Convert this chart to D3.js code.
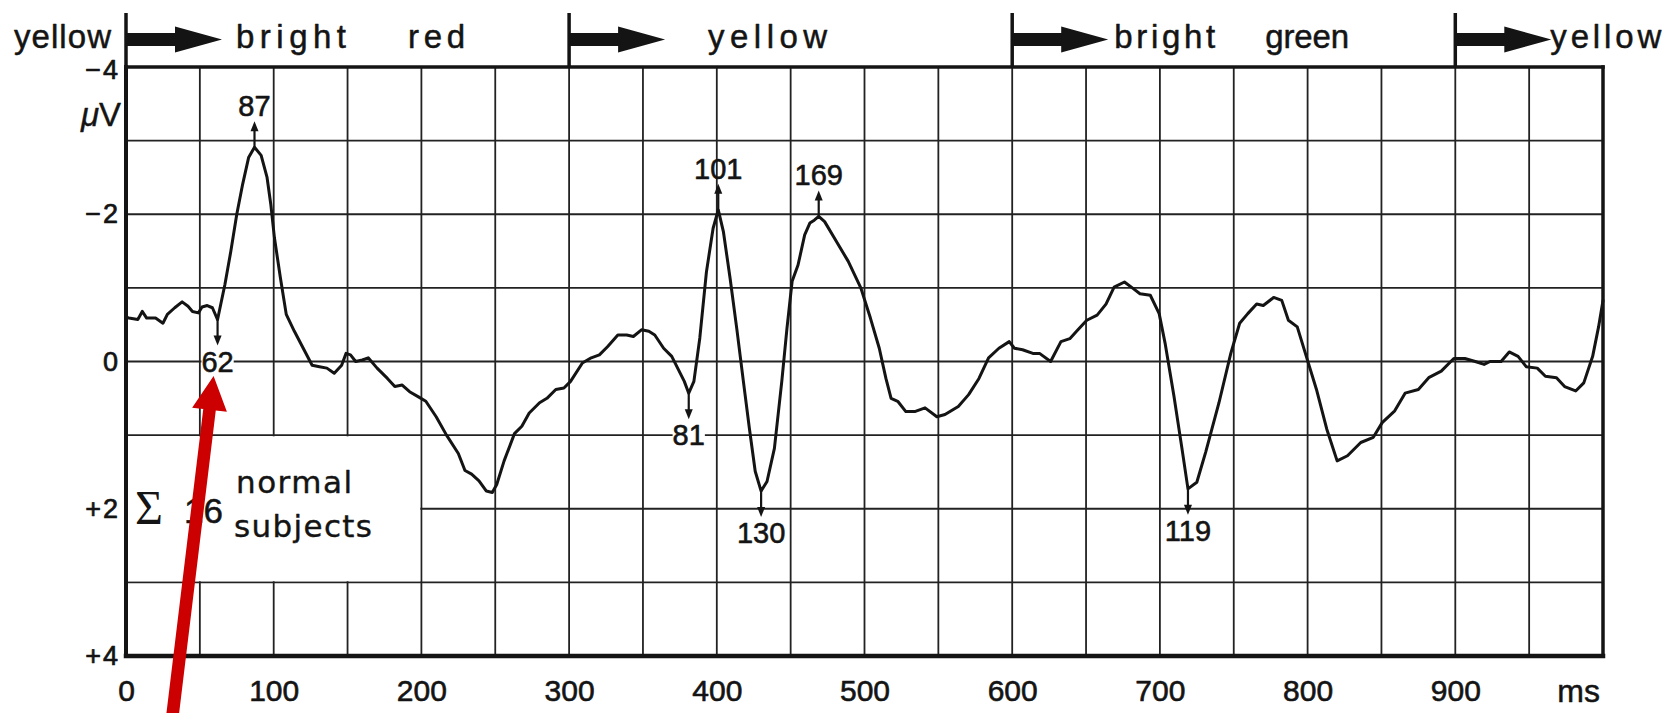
<!DOCTYPE html>
<html>
<head>
<meta charset="utf-8">
<script src="https://cdn.jsdelivr.net/npm/d3@7"></script>
<style>
  html, body { margin: 0; padding: 0; background: #ffffff; }
  svg { display: block; }
</style>
</head>
<body>
<svg id="chart" width="1670" height="713"></svg>
<script>
// Averaged visual evoked potential, colour-change stimulation
// Time after sweep start (ms) and amplitude (µV, negative is drawn upward)
const timeMs = [
  0, 2, 8, 11, 14, 20, 25, 28, 33, 38, 42, 45, 49, 51.5, 55, 58.5, 62, 67, 71, 75,
  79, 83, 87, 91.5, 95.5, 98, 100.5, 104.5, 108.5, 114, 120, 126, 131, 136, 141, 146, 149, 152, 155.5, 160,
  164, 170, 177, 182, 187, 192, 198, 203, 210, 217, 225, 229.5, 234, 239, 244, 248, 251, 256, 263, 268,
  273, 280, 285, 291, 296.5, 301, 309, 315, 320.5, 326, 333, 339, 343.5, 349, 354, 358, 364, 369.5, 374, 378,
  381, 384.5, 388.5, 393, 397.5, 401, 404.5, 409, 413.5, 418, 422, 426, 430, 434, 439, 444, 447.5, 451, 455, 459.5,
  463, 466, 469, 473, 481, 489, 497.5, 504, 510, 514.5, 518, 522.5, 528, 534, 541, 549, 554.5, 563.5, 570.5, 577.5,
  584, 591, 598, 601.5, 607, 614, 618.5, 626, 633, 639, 644.5, 650.5, 657.5, 663.5, 669, 676, 682, 686.5, 693.5, 699.5,
  703.5, 709.5, 715, 719, 725, 731, 740, 748, 754, 759.5, 765.5, 770, 777, 782.5, 787, 793, 798.5, 806, 813, 820,
  827, 836, 844.5, 850.5, 859, 866, 875, 882, 890.5, 899, 906.5, 913.5, 919.5, 923.5, 931, 936.5, 942.5, 948, 955.5, 961,
  968.5, 974, 981.5, 987, 993, 997, 1000
];
const amplitudeUv = [
  -0.60, -0.59, -0.57, -0.68, -0.59, -0.59, -0.52, -0.64, -0.73, -0.81, -0.75, -0.68, -0.66, -0.74, -0.76, -0.73, -0.57, -1.05, -1.50, -2.00,
  -2.41, -2.77, -2.91, -2.80, -2.50, -2.14, -1.68, -1.14, -0.64, -0.41, -0.18, 0.05, 0.07, 0.09, 0.16, 0.05, -0.11, -0.09, 0.00, -0.02,
  -0.05, 0.09, 0.23, 0.34, 0.32, 0.41, 0.48, 0.54, 0.75, 1.00, 1.25, 1.48, 1.53, 1.62, 1.76, 1.78, 1.67, 1.35, 0.98, 0.88,
  0.70, 0.56, 0.50, 0.38, 0.36, 0.27, 0.02, -0.05, -0.09, -0.20, -0.36, -0.36, -0.34, -0.43, -0.41, -0.36, -0.18, -0.07, 0.11, 0.27,
  0.43, 0.27, -0.32, -1.22, -1.81, -2.06, -1.76, -1.13, -0.45, 0.27, 0.90, 1.49, 1.76, 1.63, 1.18, 0.27, -0.45, -1.09, -1.31, -1.72,
  -1.88, -1.92, -1.97, -1.90, -1.63, -1.36, -1.00, -0.59, -0.18, 0.23, 0.50, 0.54, 0.68, 0.68, 0.63, 0.75, 0.72, 0.61, 0.45, 0.23,
  -0.05, -0.18, -0.27, -0.18, -0.16, -0.11, -0.11, 0.00, -0.27, -0.31, -0.43, -0.56, -0.63, -0.78, -1.01, -1.08, -0.99, -0.92, -0.90, -0.65,
  -0.25, 0.47, 1.19, 1.73, 1.64, 1.23, 0.56, -0.11, -0.52, -0.65, -0.78, -0.76, -0.87, -0.83, -0.56, -0.47, -0.11, 0.38, 0.92, 1.35,
  1.28, 1.10, 1.03, 0.83, 0.67, 0.43, 0.38, 0.22, 0.13, -0.04, -0.04, 0.00, 0.04, 0.00, 0.00, -0.13, -0.07, 0.07, 0.09, 0.20,
  0.22, 0.34, 0.40, 0.29, -0.07, -0.47, -0.83
];

// Axis ticks
const xTicks = [0, 100, 200, 300, 400, 500, 600, 700, 800, 900];
const yTicks = [-4, -2, 0, 2, 4];
const yTickLabels = ["\u22124", "\u22122", "0", "+2", "+4"];

// Stimulus sequence: colour shown before the sweep, then a change at each onset
const initialColour = "yellow";
const stimulusOnsets = [0, 300, 600, 900];
const stimulusColours = [["bright", "red"], ["yellow"], ["bright", "green"], ["yellow"]];

// Marked components: onset of the change they follow, latency after it, polarity
const peakOnsets = [0, 0, 300, 300, 300, 300, 600];
const peakLatencies = [62, 87, 81, 101, 130, 169, 119];
const peakUpward = [false, true, false, true, false, true, false];

const subjectCount = 16;

// ---------------------------------------------------------------------------
const W = 1670, H = 713;
const plotL = 126, plotR = 1603, plotT = 67, plotB = 656;
const ink = "#141414";
const sansNum = "'Liberation Sans', Arial, sans-serif";
const sansWord = "'DejaVu Sans', sans-serif";

const svg = d3.select("#chart");
svg.append("rect").attr("width", W).attr("height", H).attr("fill", "#ffffff");

const x = d3.scaleLinear().domain([0, 1000]).range([plotL, plotR]);
const y = d3.scaleLinear().domain([-4, 4]).range([plotT, plotB]);

// heavier print weight for lettering
function inked(sel, w) {
  return sel.attr("fill", ink).attr("stroke", ink).attr("stroke-width", w).attr("stroke-linejoin", "round");
}

// grid
const grid = svg.append("g").attr("stroke", "#222222").attr("stroke-width", 1.8);
grid.selectAll("line.v").data(d3.range(50, 1000, 50)).join("line").attr("class", "v")
  .attr("x1", d => x(d)).attr("x2", d => x(d)).attr("y1", plotT).attr("y2", plotB);
grid.selectAll("line.h").data(d3.range(-3, 4, 1)).join("line").attr("class", "h")
  .attr("x1", plotL).attr("x2", plotR).attr("y1", d => y(d)).attr("y2", d => y(d));

// legend panel: blank cells between +1 and +3 µV over the first 200 ms
svg.append("rect")
  .attr("x", x(0) + 2).attr("y", y(1) + 1.2)
  .attr("width", x(200) - x(0) - 3.2).attr("height", y(3) - y(1) - 2.4)
  .attr("fill", "#ffffff");
const legend = svg.append("g");
legend.append("text").attr("x", 135).attr("y", 524)
  .attr("font-family", "'Liberation Serif', 'DejaVu Serif', serif").attr("font-size", 48)
  .attr("fill", ink).text("\u03A3");
inked(legend.append("text"), 0.5).attr("x", 184).attr("y", 523)
  .attr("font-family", sansNum).attr("font-size", 35)
  .text(String(subjectCount));
inked(legend.append("text"), 0.4).attr("x", 236).attr("y", 493)
  .attr("font-family", sansWord).attr("font-size", 31)
  .attr("textLength", 116).attr("lengthAdjust", "spacing").text("normal");
inked(legend.append("text"), 0.4).attr("x", 234).attr("y", 537)
  .attr("font-family", sansWord).attr("font-size", 31)
  .attr("textLength", 138).attr("lengthAdjust", "spacing").text("subjects");

// trace
const trace = timeMs.map((t, i) => [t, amplitudeUv[i]]);
const line = d3.line().x(d => x(d[0])).y(d => y(d[1])).curve(d3.curveLinear);
svg.append("path").datum(trace)
  .attr("d", line).attr("fill", "none").attr("stroke", ink)
  .attr("stroke-width", 3).attr("stroke-linejoin", "round").attr("stroke-linecap", "round");

// amplitude at a given time
function amplitudeAt(t) {
  const i = d3.bisector(d => d[0]).left(trace, t);
  if (i <= 0) return trace[0][1];
  if (i >= trace.length) return trace[trace.length - 1][1];
  const a = trace[i - 1], b = trace[i];
  if (b[0] === t) return b[1];
  return a[1] + (b[1] - a[1]) * (t - a[0]) / (b[0] - a[0]);
}

// component markers
const peaks = peakLatencies.map((lat, i) => ({
  lat, t: peakOnsets[i] + lat, up: peakUpward[i]
}));
const arrowLen = 26, headLen = 10, headHalf = 4;
const pk = svg.append("g");
peaks.forEach(p => {
  const px = x(p.t), py = y(amplitudeAt(p.t));
  const s = p.up ? -1 : 1;
  const tipY = py + s * arrowLen;
  const g = pk.append("g");
  g.append("line").attr("x1", px).attr("x2", px).attr("y1", py).attr("y2", tipY - s * headLen * 0.6)
    .attr("stroke", ink).attr("stroke-width", 2.2);
  g.append("path")
    .attr("d", `M${px},${tipY} L${px - headHalf},${tipY - s * headLen} L${px + headHalf},${tipY - s * headLen} Z`)
    .attr("fill", ink);
  const baseY = p.up ? tipY - 5 : tipY + 26;
  const label = inked(g.append("text"), 0.6).attr("x", px).attr("y", baseY)
    .attr("text-anchor", "middle")
    .attr("font-family", sansNum).attr("font-size", 29)
    .text(p.lat);
  if (!p.up) {
    // clear the grid line behind labels set below a trough
    const bb = label.node().getBBox();
    g.insert("rect", "text")
      .attr("x", bb.x).attr("y", bb.y + 2).attr("width", bb.width).attr("height", bb.height - 4)
      .attr("fill", "#ffffff");
  }
});

// frame
const frame = svg.append("g").attr("stroke", ink).attr("stroke-linecap", "square");
frame.append("line").attr("x1", plotL).attr("x2", plotR).attr("y1", plotT).attr("y2", plotT).attr("stroke-width", 3.5);
frame.append("line").attr("x1", plotL).attr("x2", plotR).attr("y1", plotB).attr("y2", plotB).attr("stroke-width", 4.5);
frame.append("line").attr("x1", plotL).attr("x2", plotL).attr("y1", plotT).attr("y2", plotB).attr("stroke-width", 4);
frame.append("line").attr("x1", plotR).attr("x2", plotR).attr("y1", plotT).attr("y2", plotB).attr("stroke-width", 3.5);

// axes
const xAxis = svg.append("g").attr("transform", `translate(0,${plotB})`)
  .call(d3.axisBottom(x).tickValues(xTicks).tickSize(0).tickPadding(24));
xAxis.select(".domain").remove();
inked(xAxis.selectAll("text"), 0.6)
  .attr("font-family", sansNum).attr("font-size", 30);

inked(svg.append("text"), 0.5).attr("x", x(1000) - 3).attr("y", 702).attr("text-anchor", "end")
  .attr("font-family", sansNum).attr("font-size", 32)
  .text("ms");

const yAxis = svg.append("g").attr("transform", `translate(${plotL},0)`)
  .call(d3.axisLeft(y).tickValues(yTicks).tickSize(0).tickPadding(6)
    .tickFormat((d, i) => yTickLabels[i]));
yAxis.select(".domain").remove();
inked(yAxis.selectAll("text"), 0.7)
  .attr("font-family", sansNum).attr("font-size", 27)
  .attr("letter-spacing", 2);
// keep the top tick label clear of the stimulus line above it
yAxis.selectAll("text").filter(d => d === -4).attr("dy", "0.42em");

const unit = inked(svg.append("text"), 0.4).attr("x", 121).attr("y", 126).attr("text-anchor", "end")
  .attr("font-family", sansNum).attr("font-size", 33);
unit.append("tspan").attr("font-style", "italic").text("\u03BC");
unit.append("tspan").text("V");

// stimulus sequence along the top
const stim = svg.append("g");
const arrowY = 39.5;
const stimFont = sansNum, stimSize = 33;
// word placement (px after each onset) and fitted widths
const wordOffsets = [[110, 282], [139], [102, 253], [95]];
const wordWidths = [[110, 57], [119], [101, 84], [111]];

inked(stim.append("text"), 0.5).attr("x", x(0) - 15).attr("y", 48).attr("text-anchor", "end")
  .attr("font-family", stimFont).attr("font-size", stimSize)
  .attr("textLength", 97).attr("lengthAdjust", "spacing")
  .text(initialColour);

stimulusOnsets.forEach((t, i) => {
  const x0 = x(t);
  stim.append("line").attr("x1", x0).attr("x2", x0).attr("y1", 13).attr("y2", plotT)
    .attr("stroke", ink).attr("stroke-width", 3.5);
  stim.append("path").attr("fill", ink)
    .attr("d", `M${x0},${arrowY - 6.5} H${x0 + 49} V${arrowY - 13} L${x0 + 96},${arrowY} L${x0 + 49},${arrowY + 13} V${arrowY + 6.5} H${x0} Z`);
  stimulusColours[i].forEach((w, j) => {
    inked(stim.append("text"), 0.5).attr("x", x0 + wordOffsets[i][j]).attr("y", 48)
      .attr("font-family", stimFont).attr("font-size", stimSize)
      .attr("textLength", wordWidths[i][j]).attr("lengthAdjust", "spacing")
      .text(w);
  });
});

// red pointer toward the first component
(function () {
  const tip = [213.6, 376], end = [172.8, 713];
  const dx = end[0] - tip[0], dy = end[1] - tip[1];
  const L = Math.hypot(dx, dy);
  const u = [dx / L, dy / L], n = [u[1], -u[0]];
  const head = 34, hw = 17.5, sw = 6.3, far = 360;
  const b = [tip[0] + u[0] * head, tip[1] + u[1] * head];
  const e = [tip[0] + u[0] * far, tip[1] + u[1] * far];
  const pts = [
    tip,
    [b[0] + n[0] * hw, b[1] + n[1] * hw],
    [b[0] + n[0] * sw, b[1] + n[1] * sw],
    [e[0] + n[0] * sw, e[1] + n[1] * sw],
    [e[0] - n[0] * sw, e[1] - n[1] * sw],
    [b[0] - n[0] * sw, b[1] - n[1] * sw],
    [b[0] - n[0] * hw, b[1] - n[1] * hw]
  ];
  svg.append("polygon").attr("points", pts.map(p => p.join(",")).join(" ")).attr("fill", "#cc0000");
})();
</script>
</body>
</html>
